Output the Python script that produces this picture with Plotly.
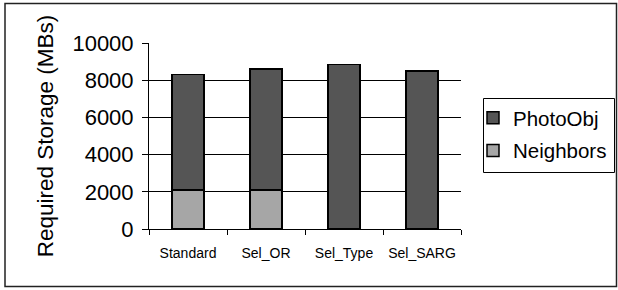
import plotly.graph_objects as go

categories = ["Standard", "Sel_OR", "Sel_Type", "Sel_SARG"]
neighbors = [2100, 2100, None, None]
photoobj = [6200, 6500, 8850, 8500]
y_ticks = [0, 2000, 4000, 6000, 8000, 10000]

W, H = 618, 290
L, R, T, B = 149, 461, 43, 229  # plot area in pixels


def px(x):
    return (x - L) / (R - L)


def py(y):
    return (B - y) / (B - T)


FONT = "Liberation Sans, Arial, sans-serif"

fig = go.Figure()
fig.add_trace(go.Bar(
    x=categories, y=neighbors, name="Neighbors",
    marker=dict(color="#a6a6a6", line=dict(color="black", width=1.5)),
    width=0.41, legendgroup="b", legendrank=2,
))
fig.add_trace(go.Bar(
    x=categories, y=photoobj, name="PhotoObj",
    marker=dict(color="#555555", line=dict(color="black", width=1.5)),
    width=0.41, legendgroup="a", legendrank=1,
))

fig.update_layout(
    width=W, height=H,
    margin=dict(l=L, r=W - R, t=T, b=H - B, autoexpand=False),
    barmode="stack",
    paper_bgcolor="white", plot_bgcolor="white",
    font=dict(family=FONT, color="black"),
    showlegend=True,
    legend=dict(
        x=px(473), y=py(98), xanchor="left", yanchor="top",
        traceorder="grouped", tracegroupgap=3,
        font=dict(size=20.5, family=FONT),
        bgcolor="rgba(0,0,0,0)", borderwidth=0,
    ),
    xaxis=dict(
        showline=True, linecolor="black", linewidth=1,
        ticks="outside", tickson="boundaries", ticklen=5, tickcolor="black",
        tickfont=dict(size=14, family=FONT), tickangle=0,
        ticklabelstandoff=11,
        showgrid=False,
    ),
    yaxis=dict(
        range=[0, 10000], tickvals=y_ticks, ticktext=[str(v) for v in y_ticks],
        showline=True, linecolor="black", linewidth=1,
        ticks="outside", ticklen=6, tickcolor="black",
        showgrid=True, gridcolor="black", gridwidth=1,
        zeroline=False,
        tickfont=dict(size=22, family=FONT),
        ticklabelstandoff=4,
        title=dict(text="Required Storage (MBs)", font=dict(size=22.5, family=FONT), standoff=12),
    ),
    shapes=[
        dict(type="rect", xref="paper", yref="paper",
             x0=px(5), x1=px(616.5), y0=py(286.5), y1=py(3.5),
             line=dict(color="#222", width=1.5), fillcolor="rgba(0,0,0,0)", layer="below"),
        dict(type="rect", xref="paper", yref="paper",
             x0=px(483.5), x1=px(614.5), y0=py(172.5), y1=py(98.5),
             line=dict(color="black", width=1), fillcolor="rgba(0,0,0,0)"),
    ],
)

fig.write_html("out.html", config={"displayModeBar": False},
               post_script="document.body.style.margin='0';document.body.style.overflow='hidden';")
